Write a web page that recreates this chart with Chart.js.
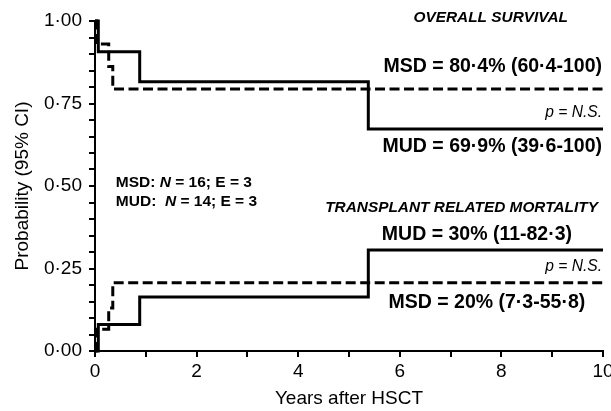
<!DOCTYPE html>
<html><head><meta charset="utf-8">
<script src="https://cdn.jsdelivr.net/npm/chart.js@4"></script>
<style>html,body{margin:0;padding:0;background:#fff;} #wrap{width:611px;height:411px;position:relative}</style>
</head><body><div id="wrap"><canvas id="c" width="611" height="411"></canvas></div>
<script>
// ---- data ----
const osTimesMUD   = [0, 0.065, 0.88, 5.38, 10];
const osValuesMUD  = [1, 0.907, 0.816, 0.673, 0.673];
const osTimesMSD   = [0, 0.03, 0.27, 0.35, 10];
const osValuesMSD  = [1, 0.93, 0.862, 0.794, 0.794];
const trmTimesMUD  = [0, 0.065, 0.88, 5.38, 10];
const trmValuesMUD = [0, 0.08, 0.164, 0.306, 0.306];
const trmTimesMSD  = [0, 0.02, 0.27, 0.35, 10];
const trmValuesMSD = [0, 0.066, 0.13, 0.207, 0.207];
const xTickLabels  = ['0', '2', '4', '6', '8', '10'];
const yTickLabels  = ['0·00', '0·25', '0·50', '0·75', '1·00'];
const xTitle = 'Years after HSCT';
const yTitle = 'Probability (95% CI)';

const FONT = '"Liberation Sans", Arial, sans-serif';

function pts(t, v) { return t.map((x, i) => ({x: x, y: v[i]})); }

const annotations = [
  {x: 9.31, y: 1.010, align: 'right', parts: [['OVERALL SURVIVAL', 'italic bold 15.4px']]},
  {x: 9.98, y: 0.861, align: 'right', parts: [['MSD = 80·4% (60·4-100)', 'bold 19.5px']]},
  {x: 9.98, y: 0.721, align: 'right', parts: [['p = N.S.', 'italic 15.6px']]},
  {x: 9.98, y: 0.618, align: 'right', parts: [['MUD = 69·9% (39·6-100)', 'bold 19.5px']]},
  {x: 0.41, y: 0.509, align: 'left', parts: [['MSD: ', 'bold 15.5px'], ['N', 'italic bold 15.5px'], [' = 16; E = 3', 'bold 15.5px']]},
  {x: 0.41, y: 0.452, align: 'left', parts: [['MUD:  ', 'bold 15.5px'], ['N', 'italic bold 15.5px'], [' = 14; E = 3', 'bold 15.5px']]},
  {x: 9.90, y: 0.433, align: 'right', parts: [['TRANSPLANT RELATED MORTALITY', 'italic bold 15.4px']]},
  {x: 9.39, y: 0.352, align: 'right', parts: [['MUD = 30% (11-82·3)', 'bold 19.5px']]},
  {x: 9.98, y: 0.255, align: 'right', parts: [['p = N.S.', 'italic 15.6px']]},
  {x: 9.65, y: 0.148, align: 'right', parts: [['MSD = 20% (7·3-55·8)', 'bold 19.5px']]}
];

const textPlugin = {
  id: 'texts',
  afterDraw(chart) {
    const ctx = chart.ctx, sx = chart.scales.x, sy = chart.scales.y;
    ctx.save();
    ctx.fillStyle = '#000';
    ctx.textBaseline = 'middle';
    ctx.textAlign = 'left';
    annotations.forEach(a => {
      let total = 0;
      const widths = a.parts.map(p => { ctx.font = p[1] + ' ' + FONT; const w = ctx.measureText(p[0]).width; total += w; return w; });
      let px = sx.getPixelForValue(a.x);
      const py = sy.getPixelForValue(a.y);
      if (a.align === 'right') px -= total;
      a.parts.forEach((p, i) => { ctx.font = p[1] + ' ' + FONT; ctx.fillText(p[0], px, py); px += widths[i]; });
    });
    ctx.restore();
  }
};

function ds(t, v, dashed) {
  return {
    data: pts(t, v), stepped: true, borderColor: '#000', borderWidth: 3,
    borderDash: dashed ? [10, 4.5] : [], borderCapStyle: 'butt',
    pointRadius: 0, fill: false, clip: false
  };
}

new Chart(document.getElementById('c'), {
  type: 'line',
  data: { datasets: [
    ds(osTimesMUD, osValuesMUD, false),
    ds(osTimesMSD, osValuesMSD, true),
    ds(trmTimesMUD, trmValuesMUD, false),
    ds(trmTimesMSD, trmValuesMSD, true)
  ]},
  options: {
    responsive: false, animation: false, devicePixelRatio: 1,
    layout: { padding: { top: 21, right: 8, left: 0, bottom: 0 } },
    plugins: { legend: { display: false }, tooltip: { enabled: false } },
    scales: {
      x: {
        type: 'linear', min: 0, max: 10,
        ticks: { stepSize: 1, autoSkip: false, maxRotation: 0, color: '#000', padding: 3,
                 font: { family: FONT, size: 19 },
                 callback: v => (Math.round(v) % 2 === 0 ? xTickLabels[Math.round(v) / 2] : '') },
        grid: { drawOnChartArea: false, drawTicks: true, tickLength: 6, color: '#000', lineWidth: 2 },
        border: { color: '#000', width: 2 },
        title: { display: true, text: xTitle, color: '#000', font: { family: FONT, size: 19 }, padding: { top: 0, bottom: 1 } },
        afterFit: s => { s.height = 60; s.paddingLeft = 0; s.paddingRight = 0; }
      },
      y: {
        min: 0, max: 1,
        ticks: { stepSize: 0.05, autoSkip: false, color: '#000', padding: 7,
                 font: { family: FONT, size: 19 },
                 callback: v => { const k = Math.round(v * 100); return k % 25 === 0 ? yTickLabels[k / 25] : ''; } },
        grid: { drawOnChartArea: false, drawTicks: true, tickLength: 6, color: '#000', lineWidth: 2 },
        border: { color: '#000', width: 2 },
        title: { display: true, text: yTitle, color: '#000', font: { family: FONT, size: 19 }, padding: { top: 11, bottom: 0 } },
        afterFit: s => { s.width = 95; s.paddingTop = 0; s.paddingBottom = 0; }
      }
    }
  },
  plugins: [textPlugin]
});
</script></body></html>
